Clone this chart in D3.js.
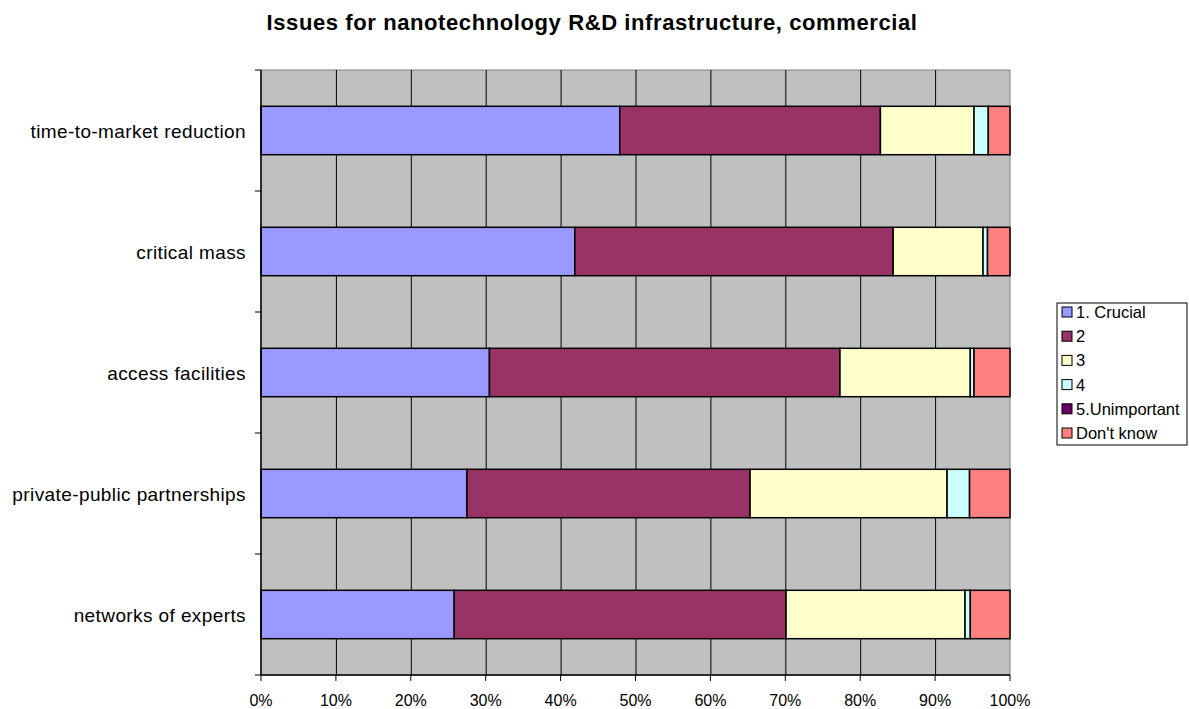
<!DOCTYPE html>
<html>
<head>
<meta charset="utf-8">
<script src="https://cdn.jsdelivr.net/npm/d3@7"></script>
<style>
  body { margin: 0; background: #fff; }
  text { font-family: "Liberation Sans", Arial, sans-serif; }
</style>
</head>
<body>
<div id="chart"></div>
<script>
// data, top bar first
const categories = ["time-to-market reduction", "critical mass", "access facilities", "private-public partnerships", "networks of experts"];
const seriesNames = ["1. Crucial", "2", "3", "4", "5.Unimportant", "Don't know"];
const crucial     = [47.9, 41.9, 30.5, 27.5, 25.8];
const two         = [34.8, 42.5, 46.8, 37.8, 44.3];
const three       = [12.5, 12.0, 17.4, 26.3, 23.9];
const four        = [1.9, 0.6, 0.5, 3.0, 0.7];
const unimportant = [0, 0, 0, 0, 0];
const dontKnow    = [2.9, 3.0, 4.8, 5.4, 5.3];
const xTicks = [0, 10, 20, 30, 40, 50, 60, 70, 80, 90, 100];

const colors = ["#9999FF", "#993366", "#FFFFCC", "#CCFFFF", "#660066", "#FF8080"];

const W = 1189, H = 709;
const plotL = 261, plotR = 1010, plotT = 70, plotB = 675;

const svg = d3.select("#chart").append("svg").attr("width", W).attr("height", H);

// title
svg.append("text")
    .attr("x", 592).attr("y", 30)
    .attr("text-anchor", "middle")
    .attr("font-size", 22).attr("font-weight", "bold")
    .attr("letter-spacing", 0.6)
    .text("Issues for nanotechnology R&D infrastructure, commercial");

const x = d3.scaleLinear().domain([0, 100]).range([plotL, plotR]);
const y = d3.scaleBand().domain(categories).range([plotT, plotB]).paddingInner(0.6).paddingOuter(0.3);
const yb = d3.scaleBand().domain(categories).range([plotT, plotB]);

// plot background
svg.append("rect")
    .attr("x", plotL).attr("y", plotT)
    .attr("width", plotR - plotL).attr("height", plotB - plotT)
    .attr("fill", "#C0C0C0").attr("stroke", "#808080").attr("stroke-width", 1);

// vertical gridlines
svg.selectAll(".grid").data(xTicks.slice(1, -1)).join("line")
    .attr("x1", d => x(d) + 0.5).attr("x2", d => x(d) + 0.5)
    .attr("y1", plotT).attr("y2", plotB)
    .attr("stroke", "#000").attr("stroke-width", 1);

// stacked bars
const rows = categories.map((c, i) => ({
    cat: c,
    "1. Crucial": crucial[i], "2": two[i], "3": three[i], "4": four[i],
    "5.Unimportant": unimportant[i], "Don't know": dontKnow[i]
}));
const stacked = d3.stack().keys(seriesNames)(rows);

stacked.forEach((layer, k) => {
    svg.append("g").selectAll("rect").data(layer.filter(d => d[1] - d[0] > 0)).join("rect")
        .attr("x", d => x(d[0]))
        .attr("y", d => y(d.data.cat))
        .attr("width", d => x(d[1]) - x(d[0]))
        .attr("height", y.bandwidth())
        .attr("fill", colors[k])
        .attr("stroke", "#000").attr("stroke-width", 1.5);
});

// y axis
const yAxis = svg.append("g");
yAxis.append("line")
    .attr("x1", plotL).attr("x2", plotL).attr("y1", plotT).attr("y2", plotB)
    .attr("stroke", "#000").attr("stroke-width", 1.5);
const bounds = categories.map(c => yb(c)).concat([plotB]);
yAxis.selectAll(".tick").data(bounds).join("line")
    .attr("x1", plotL - 6).attr("x2", plotL)
    .attr("y1", d => d).attr("y2", d => d)
    .attr("stroke", "#000");
yAxis.selectAll(".lab").data(categories).join("text")
    .attr("x", 246)
    .attr("y", d => yb(d) + yb.bandwidth() / 2 + 7)
    .attr("text-anchor", "end")
    .attr("font-size", 19)
    .attr("letter-spacing", 0.4)
    .text(d => d);

// x axis
const xAxis = svg.append("g");
xAxis.append("line")
    .attr("x1", plotL).attr("x2", plotR).attr("y1", plotB).attr("y2", plotB)
    .attr("stroke", "#000").attr("stroke-width", 1.5);
xAxis.selectAll(".tick").data(xTicks).join("line")
    .attr("x1", d => x(d)).attr("x2", d => x(d))
    .attr("y1", plotB).attr("y2", plotB + 6)
    .attr("stroke", "#000");
xAxis.selectAll(".lab").data(xTicks).join("text")
    .attr("x", d => x(d))
    .attr("y", 706)
    .attr("text-anchor", "middle")
    .attr("font-size", 16)
    .text(d => d + "%");

// legend
const legend = svg.append("g").attr("transform", "translate(1057,303)");
legend.append("rect")
    .attr("width", 130).attr("height", 142)
    .attr("fill", "#fff").attr("stroke", "#000");
const items = legend.selectAll(".item").data(seriesNames).join("g")
    .attr("transform", (d, i) => `translate(5,${4 + i * 24.2})`);
items.append("rect")
    .attr("width", 10).attr("height", 10)
    .attr("fill", (d, i) => colors[i])
    .attr("stroke", "#000");
items.append("text")
    .attr("x", 14).attr("y", 11)
    .attr("font-size", 16.5)
    .text(d => d);
</script>
</body>
</html>
